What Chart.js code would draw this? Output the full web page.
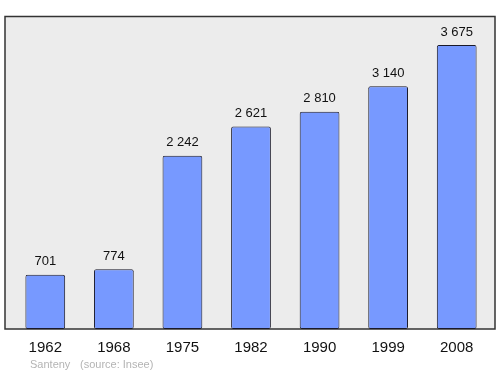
<!DOCTYPE html>
<html>
<head>
<meta charset="utf-8">
<script src="https://cdn.jsdelivr.net/npm/chart.js@4/dist/chart.umd.min.js"></script>
<style>
  html, body { margin: 0; padding: 0; background: #fff; }
  #wrap { width: 500px; height: 374px; position: relative; }
</style>
</head>
<body>
<div id="wrap"><canvas id="popChart" width="500" height="374"></canvas></div>
<script>
const years = ['1962', '1968', '1975', '1982', '1990', '1999', '2008'];
const population = [701, 774, 2242, 2621, 2810, 3140, 3675];
const yMax = 4037;

// nombre avec espace comme séparateur de milliers
function formatNum(n) {
  return String(n).replace(/\B(?=(\d{3})+(?!\d))/g, ' ');
}

// fond gris + cadre, étiquettes et source
const framePlugin = {
  id: 'frame',
  beforeDraw(chart) {
    const ctx = chart.ctx;
    const area = chart.chartArea;
    ctx.save();
    ctx.fillStyle = '#ececec';
    ctx.fillRect(5, 16.5, 490, area.bottom - 16.5);
    ctx.strokeStyle = '#333';
    ctx.lineWidth = 1.5;
    ctx.strokeRect(5, 16.5, 490, area.bottom - 16.5);
    ctx.restore();
  },
  afterDatasetsDraw(chart) {
    const ctx = chart.ctx;
    const meta = chart.getDatasetMeta(0);
    ctx.save();
    ctx.fillStyle = '#111';
    ctx.font = '13px "Liberation Sans", Arial, sans-serif';
    ctx.textAlign = 'center';
    ctx.textBaseline = 'middle';
    meta.data.forEach((bar, i) => {
      ctx.fillText(formatNum(population[i]), bar.x, bar.y - 13);
    });
    ctx.fillStyle = '#b4b4b4';
    ctx.font = '11px "Liberation Sans", Arial, sans-serif';
    ctx.textAlign = 'left';
    ctx.fillText('Santeny', 30, 365);
    ctx.fillText('(source: Insee)', 80, 365);
    ctx.restore();
  }
};

new Chart(document.getElementById('popChart'), {
  type: 'bar',
  data: {
    labels: years,
    datasets: [{
      data: population,
      backgroundColor: '#7799ff',
      borderColor: '#1a1a2a',
      borderWidth: 1,
      borderRadius: 2,
      borderSkipped: false,
      categoryPercentage: 1,
      barPercentage: 0.58
    }]
  },
  options: {
    responsive: false,
    animation: false,
    layout: { padding: { left: 11, right: 9, top: 17, bottom: 0 } },
    plugins: {
      legend: { display: false },
      tooltip: { enabled: false }
    },
    scales: {
      x: {
        grid: { display: false, drawTicks: false },
        border: { display: false },
        ticks: {
          color: '#111',
          font: { size: 15, family: '"Liberation Sans", Arial, sans-serif' },
          padding: 10
        },
        afterFit(scale) { scale.height = 45; }
      },
      y: {
        display: false,
        min: 0,
        max: yMax
      }
    }
  },
  plugins: [framePlugin]
});
</script>
</body>
</html>
